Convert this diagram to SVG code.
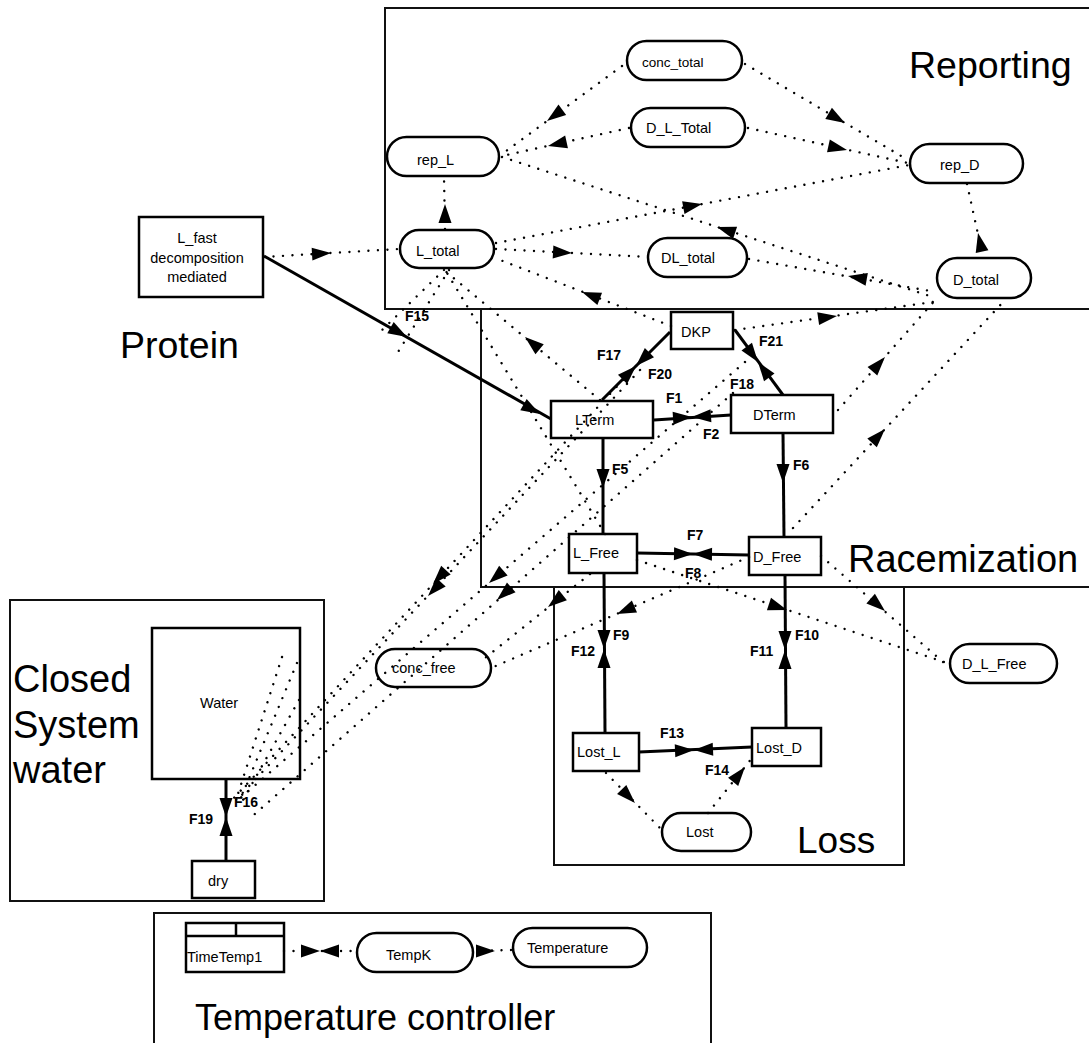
<svg xmlns="http://www.w3.org/2000/svg" xmlns:xlink="http://www.w3.org/1999/xlink" width="1089" height="1043" viewBox="0 0 1089 1043">
<defs>
<style>
.reg{fill:none;stroke:#111;stroke-width:2}
.box{fill:#fff;stroke:#000;stroke-width:2.5}
.lbl{font-family:"Liberation Sans",Arial,sans-serif;font-size:14.5px;fill:#000}
.big{font-family:"Liberation Sans",Arial,sans-serif;font-size:37px;fill:#000}
.fl{font-family:"Liberation Sans",Arial,sans-serif;font-size:14px;font-weight:bold;fill:#000}
.info{fill:none;stroke:#000;stroke-width:2.4;stroke-linecap:round;stroke-dasharray:0.01 9.5}
.flow{fill:none;stroke:#000;stroke-width:3}
</style>
<path id="ah" d="M0,0 L-19,-6.5 L-19,6.5 Z" fill="#000"/>
</defs>
<rect width="1089" height="1043" fill="#fff"/>

<g id="regions">
<rect class="reg" x="385" y="8" width="720" height="301"/>
<rect class="reg" x="481" y="309" width="620" height="278"/>
<rect class="reg" x="554" y="587" width="350" height="278"/>
<rect class="reg" x="10" y="600" width="314" height="301"/>
<rect class="reg" x="154" y="913" width="557" height="140"/>
<text class="big" x="909" y="78" style="font-size:37.5px">Reporting</text>
<text class="big" x="848" y="572" style="font-size:38px">Racemization</text>
<text class="big" x="120" y="358" style="font-size:37.5px">Protein</text>
<text class="big" x="797" y="853">Loss</text>
<text class="big" x="13" y="692" style="font-size:38px">Closed</text>
<text class="big" x="13" y="738" style="font-size:38px">System</text>
<text class="big" x="13" y="783" style="font-size:38px">water</text>
<text class="big" x="195" y="1030" style="font-size:36px">Temperature controller</text>
</g>

<g id="L_fast"><rect class="box" x="139" y="217" width="124" height="80"/>
<text class="lbl" x="197" y="243" text-anchor="middle">L_fast</text>
<text class="lbl" x="197" y="263" text-anchor="middle">decomposition</text>
<text class="lbl" x="197" y="282" text-anchor="middle">mediated</text></g>
<g id="conc_total"><rect class="box" x="627" y="41" width="115" height="39" rx="19.5"/><text class="lbl" x="642" y="67" style="font-size:13.5px">conc_total</text></g>
<g id="D_L_Total"><rect class="box" x="631" y="108" width="114" height="39" rx="19.5"/><text class="lbl" x="646" y="133">D_L_Total</text></g>
<g id="rep_L"><rect class="box" x="387" y="137" width="112" height="39" rx="19.5"/><text class="lbl" x="417" y="165">rep_L</text></g>
<g id="L_total"><rect class="box" x="400" y="230" width="94" height="38" rx="19"/><text class="lbl" x="416" y="256">L_total</text></g>
<g id="DL_total"><rect class="box" x="648" y="238" width="99" height="39" rx="19.5"/><text class="lbl" x="661" y="263">DL_total</text></g>
<g id="rep_D"><rect class="box" x="910" y="144" width="113" height="39" rx="19.5"/><text class="lbl" x="940" y="170">rep_D</text></g>
<g id="D_total"><rect class="box" x="937" y="258" width="94" height="40" rx="20"/><text class="lbl" x="953" y="285">D_total</text></g>
<g id="DKP"><rect class="box" x="671" y="312" width="62" height="37"/><text class="lbl" x="681" y="337">DKP</text></g>
<g id="LTerm"><rect class="box" x="551" y="401" width="102" height="37"/><text class="lbl" x="575" y="425">LTerm</text></g>
<g id="DTerm"><rect class="box" x="731" y="395" width="102" height="38"/><text class="lbl" x="753" y="420">DTerm</text></g>
<g id="L_Free"><rect class="box" x="569" y="534" width="68" height="39"/><text class="lbl" x="573" y="558">L_Free</text></g>
<g id="D_Free"><rect class="box" x="749" y="537" width="72" height="38"/><text class="lbl" x="753" y="562">D_Free</text></g>
<g id="Water"><rect class="box" x="152" y="628" width="148" height="151"/><text class="lbl" x="200" y="708">Water</text></g>
<g id="dry"><rect class="box" x="192" y="861" width="63" height="37"/><text class="lbl" x="208" y="886">dry</text></g>
<g id="conc_free"><rect class="box" x="376" y="649" width="115" height="38" rx="19"/><text class="lbl" x="392" y="673">conc_free</text></g>
<g id="Lost_L"><rect class="box" x="573" y="733" width="66" height="38"/><text class="lbl" x="577" y="757">Lost_L</text></g>
<g id="Lost_D"><rect class="box" x="752" y="728" width="69" height="38"/><text class="lbl" x="756" y="753">Lost_D</text></g>
<g id="Lost"><rect class="box" x="662" y="813" width="89" height="38" rx="19"/><text class="lbl" x="686" y="837">Lost</text></g>
<g id="D_L_Free"><rect class="box" x="950" y="644" width="107" height="39" rx="19.5"/><text class="lbl" x="962" y="669">D_L_Free</text></g>
<g id="TimeTemp1"><rect class="box" x="186" y="923" width="98" height="49"/><path d="M186,936 H284 M236,923 V936" stroke="#000" stroke-width="2.5"/><text class="lbl" x="187" y="962">TimeTemp1</text></g>
<g id="TempK"><rect class="box" x="357" y="933" width="116" height="39" rx="19.5"/><text class="lbl" x="386" y="960">TempK</text></g>
<g id="Temperature"><rect class="box" x="513" y="928" width="134" height="39" rx="19.5"/><text class="lbl" x="527" y="953">Temperature</text></g>

<g id="connectors">
<path class="info" d="M622,66 L502,154"/><use xlink:href="#ah" href="#ah" transform="translate(547,121) rotate(143.7)"/>
<path class="info" d="M629,128 L502,156"/><use xlink:href="#ah" href="#ah" transform="translate(548,146) rotate(167.6)"/>
<path class="info" d="M745,64 L908,160"/><use xlink:href="#ah" href="#ah" transform="translate(845,123) rotate(30.5)"/>
<path class="info" d="M748,128 L908,163"/><use xlink:href="#ah" href="#ah" transform="translate(847,150) rotate(12.3)"/>
<path class="info" d="M502,157 L936,298"/><use xlink:href="#ah" href="#ah" transform="translate(717,227) rotate(-162)"/>
<path class="info" d="M749,259 L936,292"/><use xlink:href="#ah" href="#ah" transform="translate(848,276) rotate(190)"/>
<path class="info" d="M496,243 L909,165"/><use xlink:href="#ah" href="#ah" transform="translate(702,204) rotate(-10.7)"/>
<path class="info" d="M496,249 L647,257"/><use xlink:href="#ah" href="#ah" transform="translate(572,253) rotate(3)"/>
<path class="info" d="M967,184 L983,257"/><use xlink:href="#ah" href="#ah" transform="translate(978,233) rotate(-102.4)"/>
<path class="info" d="M264,257 L399,249"/><use xlink:href="#ah" href="#ah" transform="translate(331,253) rotate(-3.4)"/>
<path class="info" d="M445,229 L444,177"/><use xlink:href="#ah" href="#ah" transform="translate(445,204) rotate(-90)"/>
<path class="info" d="M671,326 L495,258"/><use xlink:href="#ah" href="#ah" transform="translate(582,292) rotate(-158.9)"/>
<path class="info" d="M735,330 L940,301"/><use xlink:href="#ah" href="#ah" transform="translate(837,316) rotate(-8.1)"/>
<path class="info" d="M600,400 L444,270"/><use xlink:href="#ah" href="#ah" transform="translate(525,337) rotate(-140.2)"/>
<path class="info" d="M605,534 L444,268"/>
<path class="info" d="M838,410 L937,298"/><use xlink:href="#ah" href="#ah" transform="translate(885,357) rotate(-48.5)"/>
<path class="info" d="M793,528 L1005,300"/><use xlink:href="#ah" href="#ah" transform="translate(885,429) rotate(-47.1)"/>
<path class="info" d="M444,270 L381,331"/>
<path class="info" d="M449,270 L398,352"/>
<path class="info" d="M745,362 L238,800"/><use xlink:href="#ah" href="#ah" transform="translate(489,583) rotate(139.2)"/>
<path class="info" d="M733,393 L248,820"/><use xlink:href="#ah" href="#ah" transform="translate(497,600) rotate(138.6)"/>
<path class="info" d="M636,366 L232,800"/><use xlink:href="#ah" href="#ah" transform="translate(433,584) rotate(132.9)"/>
<path class="info" d="M640,370 L236,800"/><use xlink:href="#ah" href="#ah" transform="translate(428,596) rotate(132.9)"/>
<path class="info" d="M282,657 L236,800"/>
<path class="info" d="M297,663 L240,800"/>
<path class="info" d="M299,700 L243,800"/>
<path class="info" d="M749,557 L491,668"/><use xlink:href="#ah" href="#ah" transform="translate(617,614) rotate(156.7)"/>
<path class="info" d="M590,574 L485,658"/><use xlink:href="#ah" href="#ah" transform="translate(548,607) rotate(141.3)"/>
<path class="info" d="M637,560 L950,664"/><use xlink:href="#ah" href="#ah" transform="translate(787,610) rotate(18.4)"/>
<path class="info" d="M821,556 L950,668"/><use xlink:href="#ah" href="#ah" transform="translate(885,611) rotate(41)"/>
<path class="info" d="M606,773 L660,828"/><use xlink:href="#ah" href="#ah" transform="translate(635,803) rotate(45.5)"/>
<path class="info" d="M708,813 L752,758"/><use xlink:href="#ah" href="#ah" transform="translate(745,767) rotate(-51.3)"/>
<path class="info" d="M284,951 L357,951"/><use xlink:href="#ah" href="#ah" transform="translate(320,951)"/><use xlink:href="#ah" href="#ah" transform="translate(320,951) rotate(180)"/>
<path class="info" d="M473,951 L513,950"/><use xlink:href="#ah" href="#ah" transform="translate(495,951)"/>
<path class="flow" d="M264,256 L551,419"/><use xlink:href="#ah" href="#ah" transform="translate(407,337) rotate(29.6)"/><use xlink:href="#ah" href="#ah" transform="translate(540,414) rotate(29.6)"/>
<path class="flow" d="M670,332 L602,400"/><use xlink:href="#ah" href="#ah" transform="translate(636,366) rotate(135)"/><use xlink:href="#ah" href="#ah" transform="translate(636,366) rotate(-45)"/>
<path class="flow" d="M735,330 L783,395"/><use xlink:href="#ah" href="#ah" transform="translate(758,362) rotate(53.6)"/><use xlink:href="#ah" href="#ah" transform="translate(758,362) rotate(-126.4)"/>
<path class="flow" d="M654,420 L731,415"/><use xlink:href="#ah" href="#ah" transform="translate(692,417) rotate(-3.7)"/><use xlink:href="#ah" href="#ah" transform="translate(692,417) rotate(176.3)"/>
<path class="flow" d="M603,438 L603,534"/><use xlink:href="#ah" href="#ah" transform="translate(603,488) rotate(90)"/>
<path class="flow" d="M783,433 L784,537"/><use xlink:href="#ah" href="#ah" transform="translate(783,483) rotate(90)"/>
<path class="flow" d="M637,553 L749,555"/><use xlink:href="#ah" href="#ah" transform="translate(693,554) rotate(1)"/><use xlink:href="#ah" href="#ah" transform="translate(693,554) rotate(181)"/>
<path class="flow" d="M604,573 L605,733"/><use xlink:href="#ah" href="#ah" transform="translate(604,649) rotate(90)"/><use xlink:href="#ah" href="#ah" transform="translate(604,649) rotate(-90)"/>
<path class="flow" d="M785,575 L786,728"/><use xlink:href="#ah" href="#ah" transform="translate(785,650) rotate(90)"/><use xlink:href="#ah" href="#ah" transform="translate(785,650) rotate(-90)"/>
<path class="flow" d="M639,752 L752,747"/><use xlink:href="#ah" href="#ah" transform="translate(694,750) rotate(-2.5)"/><use xlink:href="#ah" href="#ah" transform="translate(694,750) rotate(177.5)"/>
<path class="flow" d="M226,779 L226,861"/><use xlink:href="#ah" href="#ah" transform="translate(226,817) rotate(90)"/><use xlink:href="#ah" href="#ah" transform="translate(226,817) rotate(-90)"/>
</g>

<g id="flow-labels">
<text class="fl" x="405" y="321">F15</text>
<text class="fl" x="597" y="360">F17</text>
<text class="fl" x="648" y="379">F20</text>
<text class="fl" x="666" y="403">F1</text>
<text class="fl" x="703" y="439">F2</text>
<text class="fl" x="612" y="474">F5</text>
<text class="fl" x="687" y="540">F7</text>
<text class="fl" x="685" y="578">F8</text>
<text class="fl" x="759" y="346">F21</text>
<text class="fl" x="730" y="389">F18</text>
<text class="fl" x="793" y="470">F6</text>
<text class="fl" x="613" y="640">F9</text>
<text class="fl" x="571" y="656">F12</text>
<text class="fl" x="795" y="640">F10</text>
<text class="fl" x="750" y="656">F11</text>
<text class="fl" x="660" y="738">F13</text>
<text class="fl" x="705" y="775">F14</text>
<text class="fl" x="189" y="824">F19</text>
<text class="fl" x="234" y="807">F16</text>
</g>
</svg>
